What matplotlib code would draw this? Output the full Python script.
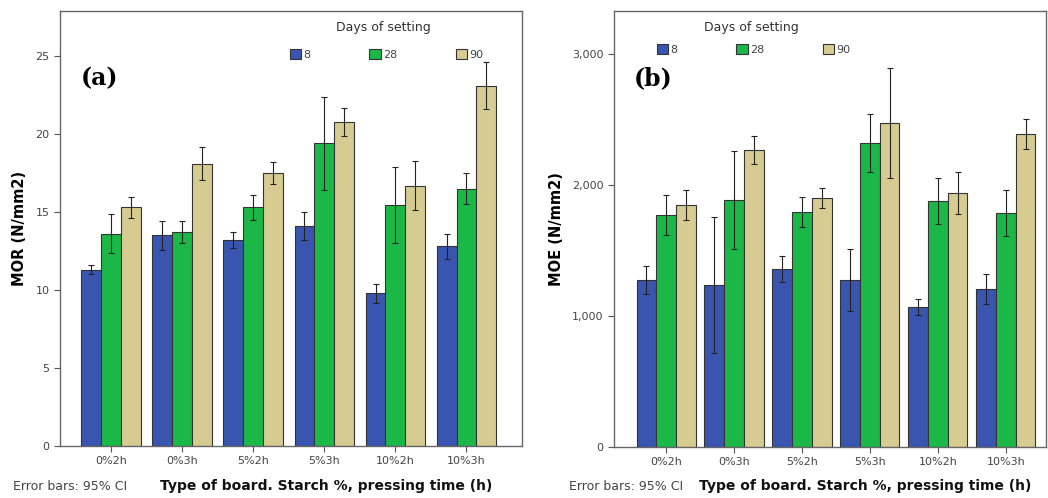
import matplotlib.pyplot as plt
import numpy as np
from matplotlib.patches import Patch
from matplotlib.ticker import MultipleLocator, StrMethodFormatter

boards = ["0%2h", "0%3h", "5%2h", "5%3h", "10%2h", "10%3h"]
days = ["8", "28", "90"]

# MOR (N/mm2), panel (a)
mor_8 = [11.3, 13.5, 13.2, 14.1, 9.8, 12.8]
mor_28 = [13.6, 13.7, 15.3, 19.4, 15.45, 16.5]
mor_90 = [15.3, 18.1, 17.5, 20.8, 16.7, 23.1]
mor_8_err = [0.3, 0.9, 0.5, 0.9, 0.6, 0.8]
mor_28_err = [1.25, 0.7, 0.8, 3.0, 2.45, 1.0]
mor_90_err = [0.7, 1.05, 0.7, 0.9, 1.55, 1.5]

# MOE (N/mm2), panel (b)
moe_8 = [1275, 1237, 1359, 1275, 1069, 1206]
moe_28 = [1771, 1885, 1794, 2321, 1878, 1786]
moe_90 = [1847, 2267, 1901, 2473, 1939, 2389]
moe_8_err = [110, 520, 100, 240, 60, 115]
moe_28_err = [150, 375, 115, 220, 175, 175]
moe_90_err = [115, 105, 75, 420, 160, 115]

colors = ["#3a55b0", "#1bb848", "#d6cc92"]
edge = "#333333"

fig = plt.figure(figsize=(10.48, 4.98), dpi=100)
ax_a = fig.add_axes([0.0573, 0.1044, 0.4407, 0.8736])
ax_b = fig.add_axes([0.586, 0.1024, 0.412, 0.8756])


def panel(ax, series, errs, ylim, step, xlim, w, ylabel, tag, leg_pos, title_pos, fmt):
    x = np.arange(len(boards))
    for i, (vals, err) in enumerate(zip(series, errs)):
        ax.bar(x + (i - 1) * w, vals, w, color=colors[i], edgecolor=edge,
               linewidth=0.8, zorder=2)
        ax.errorbar(x + (i - 1) * w, vals, yerr=err, fmt="none",
                    ecolor="#222222", elinewidth=0.8, capsize=2, capthick=0.8,
                    zorder=3)
    ax.set_xlim(*xlim)
    ax.set_ylim(*ylim)
    ax.yaxis.set_major_locator(MultipleLocator(step))
    ax.yaxis.set_major_formatter(StrMethodFormatter(fmt))
    ax.set_xticks(x)
    ax.set_xticklabels(boards)
    ax.tick_params(axis="both", labelsize=8, labelcolor="#444444",
                   length=4, width=0.8, color="#555555")
    for s in ax.spines.values():
        s.set_color("#666666")
        s.set_linewidth(1.0)
    ax.set_ylabel(ylabel, fontsize=10.5, fontweight="bold", labelpad=6)
    ax.text(0.045, 0.83, tag, transform=ax.transAxes, fontsize=17,
            fontweight="bold", family="DejaVu Serif")
    handles = [Patch(facecolor=c, edgecolor=edge, linewidth=0.8) for c in colors]
    leg = ax.legend(handles, days, ncol=3, loc="upper left",
                    bbox_to_anchor=leg_pos, borderpad=0, borderaxespad=0,
                    frameon=False, fontsize=8,
                    handlelength=1.0, handleheight=1.0, handletextpad=0.2,
                    columnspacing=5.3)
    for t in leg.get_texts():
        t.set_color("#444444")
    ax.text(title_pos[0], title_pos[1], "Days of setting", transform=ax.transAxes,
            fontsize=9, color="#333333", ha="center", va="center")


panel(ax_a, [mor_8, mor_28, mor_90], [mor_8_err, mor_28_err, mor_90_err],
      (0, 27.9), 5, (-0.72, 5.78), 0.28, "MOR (N/mm2)", "(a)",
      (0.498, 0.912), (0.699, 0.963), "{x:.0f}")
panel(ax_b, [moe_8, moe_28, moe_90], [moe_8_err, moe_28_err, moe_90_err],
      (0, 3330), 1000, (-0.765, 5.59), 0.29, "MOE (N/mm2)", "(b)",
      (0.0995, 0.924), (0.319, 0.963), "{x:,.0f}")

for xl, xt in [(0.012, 0.153), (0.543, 0.667)]:
    fig.text(xl, 0.017, "Error bars: 95% CI", fontsize=9, color="#444444")
    fig.text(xt, 0.017, "Type of board. Starch %, pressing time (h)",
             fontsize=10, fontweight="bold", color="#111111")

fig.savefig("out.png", dpi=100)
